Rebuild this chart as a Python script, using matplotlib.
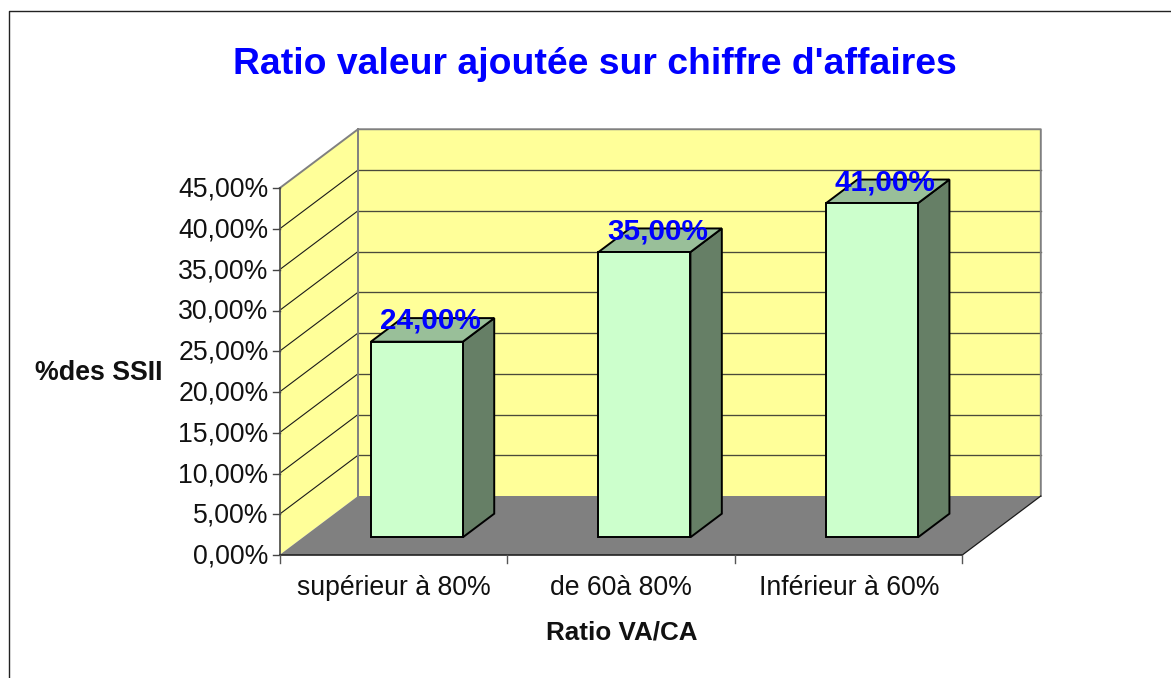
import matplotlib
matplotlib.use("Agg")
import matplotlib.pyplot as plt
from matplotlib.patches import Polygon

plt.rcParams['font.family'] = ['Liberation Sans', 'DejaVu Sans']

title = "Ratio valeur ajoutée sur chiffre d'affaires"
categories = ["supérieur à 80%", "de 60à 80%", "Inférieur à 60%"]
values = [24.0, 35.0, 41.0]
ticks = [0, 5, 10, 15, 20, 25, 30, 35, 40, 45]
x_title = "Ratio VA/CA"
y_title = "%des SSII"

W, H = 1171, 678
X0, Y0 = 279.5, 555.0      # front-left corner of the floor, px
CAT_W = 227.6              # px per category
K = 8.15                   # px per percent
DX, DY = 78.5, 59.0        # full depth offset, px
BAR_HALF = 0.202
D0, D1 = 0.30, 0.70


def P(c, v, d=0.0):
    """Project (category position, value, depth) into pixel space."""
    return (X0 + c * CAT_W + d * DX, Y0 - v * K - d * DY)


fig = plt.figure(figsize=(W / 100, H / 100), dpi=100, facecolor='white')
ax = fig.add_axes([0, 0, 1, 1])
ax.set_xlim(0, W)
ax.set_ylim(H, 0)
ax.axis('off')

n = len(categories)
vmax = ticks[-1]

# outer frame
ax.plot([9.3, 9.3, W + 5], [H + 5, 10.8, 10.8], color='#222222', lw=1.0, zorder=1)

# walls and floor
ax.add_patch(Polygon([P(0, 0, 1), P(n, 0, 1), P(n, vmax, 1), P(0, vmax, 1)],
                     fc='#FFFF99', ec='none', zorder=2))
ax.add_patch(Polygon([P(0, 0, 0), P(0, 0, 1), P(0, vmax, 1), P(0, vmax, 0)],
                     fc='#FFFF99', ec='none', zorder=2))
ax.add_patch(Polygon([P(0, 0, 0), P(n, 0, 0), P(n, 0, 1), P(0, 0, 1)],
                     fc='#808080', ec='none', zorder=2))

# gridlines
for t in ticks[1:-1]:
    xs, ys = zip(P(0, t, 0), P(0, t, 1))
    ax.plot(xs, ys, color='#1a1a1a', lw=0.8, zorder=3)
    xs, ys = zip(P(0, t, 1), P(n, t, 1))
    ax.plot(xs, ys, color='#4a4a3a', lw=0.95, zorder=3)
# wall outlines
xs, ys = zip(P(0, vmax, 0), P(0, vmax, 1), P(n, vmax, 1), P(n, 0, 1))
ax.plot(xs, ys, color='#808080', lw=1.4, zorder=3)
xs, ys = zip(P(0, 0, 1), P(0, vmax, 1))
ax.plot(xs, ys, color='#808080', lw=1.4, zorder=3)
xs, ys = zip(P(n, 0, 0), P(n, 0, 1))
ax.plot(xs, ys, color='#1a1a1a', lw=0.9, zorder=3)

# axes
xs, ys = zip(P(0, 0, 0), P(0, vmax, 0))
ax.plot(xs, ys, color='#555555', lw=1.3, zorder=4)
xs, ys = zip(P(0, 0, 0), P(n, 0, 0))
ax.plot(xs, ys, color='#222222', lw=1.2, zorder=4)

for t in ticks:
    x, y = P(0, t, 0)
    ax.plot([x - 7, x], [y, y], color='#444444', lw=1.0, zorder=4)
    ax.text(x - 11, y + 1.5, f"{t:.2f}".replace('.', ',') + "%", ha='right', va='center',
            fontsize=19.2, color='#111111', zorder=6)
for i in range(n + 1):
    x, y = P(i, 0, 0)
    ax.plot([x, x], [y, y + 8], color='#555555', lw=1.0, zorder=4)
for i, c in enumerate(categories):
    x, y = P(i + 0.5, 0, 0)
    ax.text(x + 0.5, 588, c, ha='center', va='center', fontsize=19.2, color='#111111', zorder=6)

# bars
for i, v in enumerate(values):
    l, r = i + 0.5 - BAR_HALF, i + 0.5 + BAR_HALF
    ax.add_patch(Polygon([P(r, 0, D0), P(r, 0, D1), P(r, v, D1), P(r, v, D0)],
                         fc='#667F66', ec='black', lw=1.4, joinstyle='miter', zorder=5))
    ax.add_patch(Polygon([P(l, v, D0), P(r, v, D0), P(r, v, D1), P(l, v, D1)],
                         fc='#99BF99', ec='black', lw=1.4, joinstyle='miter', zorder=5))
    ax.add_patch(Polygon([P(l, 0, D0), P(r, 0, D0), P(r, v, D0), P(l, v, D0)],
                         fc='#CCFFCC', ec='black', lw=1.4, joinstyle='miter', zorder=5))
    cx, cy = P(i + 0.5, v, 0.5)
    ax.text(cx - 2.5, cy - 9, f"{v:.2f}".replace('.', ',') + "%", ha='center', va='center',
            fontsize=21.3, fontweight='bold', color='#0000FF', zorder=7)

ax.text(595, 74, title, ha='center', va='baseline', fontsize=26.9, fontweight='bold', color='#0000FF')
ax.text(622, 633, x_title, ha='center', va='center', fontsize=18.7, fontweight='bold', color='#111111')
ax.text(99, 373.5, y_title, ha='center', va='center', fontsize=19.3, fontweight='bold', color='#111111')

fig.savefig('out.png', dpi=100, facecolor='white')
